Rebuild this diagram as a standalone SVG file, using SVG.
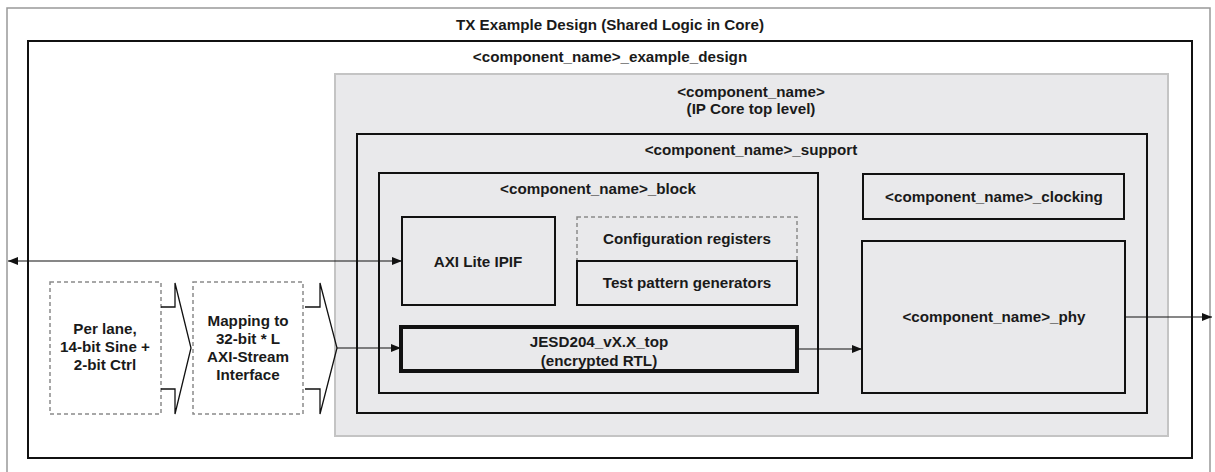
<svg xmlns="http://www.w3.org/2000/svg" width="1215" height="472" viewBox="0 0 1215 472">
<defs>
<style>
text{font-family:"Liberation Sans",Arial,sans-serif;font-weight:bold;font-size:15.2px;fill:#1a1a1a;text-anchor:middle}
.blk{fill:none;stroke:#111;stroke-width:2}
.dash{fill:none;stroke:#8a8a8a;stroke-width:1.5;stroke-dasharray:4 3}
.conn{fill:none;stroke:#111;stroke-width:1.2}
.chev{fill:none;stroke:#111;stroke-width:1.3}
</style>
<marker id="arr" viewBox="0 0 10 8" refX="10" refY="4" markerWidth="10" markerHeight="8" markerUnits="userSpaceOnUse" orient="auto">
<path d="M0,0 L10,4 L0,8 z" fill="#111"/>
</marker>
<marker id="arrs" viewBox="0 0 10 8" refX="0" refY="4" markerWidth="10" markerHeight="8" markerUnits="userSpaceOnUse" orient="auto">
<path d="M10,0 L0,4 L10,8 z" fill="#111"/>
</marker>
</defs>
<rect width="1215" height="472" fill="#fff"/>
<g id="tx_frame">
<rect x="7" y="8" width="1203" height="480" fill="#fff" stroke="#999" stroke-width="1.5"/>
<text x="610" y="30">TX Example Design (Shared Logic in Core)</text>
</g>
<g id="example_design">
<rect x="28" y="41" width="1164" height="417" class="blk"/>
<text x="610" y="62">&lt;component_name&gt;_example_design</text>
</g>
<g id="ip_core">
<rect x="335" y="74" width="833" height="362" fill="#e9e9eb" stroke="#c4c4c4" stroke-width="2"/>
<text x="751" y="97">&lt;component_name&gt;</text>
<text x="751" y="114">(IP Core top level)</text>
</g>
<g id="support">
<rect x="357" y="134" width="790" height="279" class="blk"/>
<text x="751" y="155">&lt;component_name&gt;_support</text>
</g>
<g id="block">
<rect x="379" y="173" width="439" height="220" class="blk"/>
<text x="598" y="194">&lt;component_name&gt;_block</text>
</g>
<g id="axi_lite">
<rect x="402" y="217" width="153" height="88" class="blk"/>
<text x="478" y="267">AXI Lite IPIF</text>
</g>
<g id="config_regs">
<rect x="577" y="217" width="220" height="44" class="dash"/>
<text x="687" y="244">Configuration registers</text>
</g>
<g id="test_pattern">
<rect x="577" y="261" width="220" height="44" class="blk"/>
<text x="687" y="288">Test pattern generators</text>
</g>
<g id="jesd_top">
<rect x="401" y="327" width="396" height="44" fill="none" stroke="#111" stroke-width="4"/>
<text x="599" y="347">JESD204_vX.X_top</text>
<text x="599" y="366">(encrypted RTL)</text>
</g>
<g id="clocking">
<rect x="863" y="174" width="261" height="45" class="blk"/>
<text x="994" y="202">&lt;component_name&gt;_clocking</text>
</g>
<g id="phy">
<rect x="862" y="241" width="263" height="152" class="blk"/>
<text x="994" y="322">&lt;component_name&gt;_phy</text>
</g>
<g id="per_lane">
<rect x="50" y="282" width="111" height="132" class="dash"/>
<text x="105" y="334">Per lane,</text>
<text x="105" y="352">14-bit Sine +</text>
<text x="105" y="370">2-bit Ctrl</text>
</g>
<g id="mapping">
<rect x="193" y="282" width="110" height="132" class="dash"/>
<text x="248" y="326">Mapping to</text>
<text x="248" y="344">32-bit * L</text>
<text x="248" y="362">AXI-Stream</text>
<text x="248" y="380">Interface</text>
</g>
<g id="connectors">
<polyline class="chev" points="161,307 175,307 175,283 191,348 175,414 175,389 161,389"/>
<polyline class="chev" points="305,307 320,307 320,283 337,348 320,414 320,389 305,389"/>
<line class="conn" x1="337" y1="348" x2="401" y2="348" marker-end="url(#arr)"/>
<line class="conn" x1="8" y1="261" x2="402" y2="261" marker-start="url(#arrs)" marker-end="url(#arr)"/>
<line class="conn" x1="797" y1="349" x2="862" y2="349" marker-end="url(#arr)"/>
<line class="conn" x1="1125" y1="317" x2="1212" y2="317" marker-end="url(#arr)"/>
</g>
</svg>
